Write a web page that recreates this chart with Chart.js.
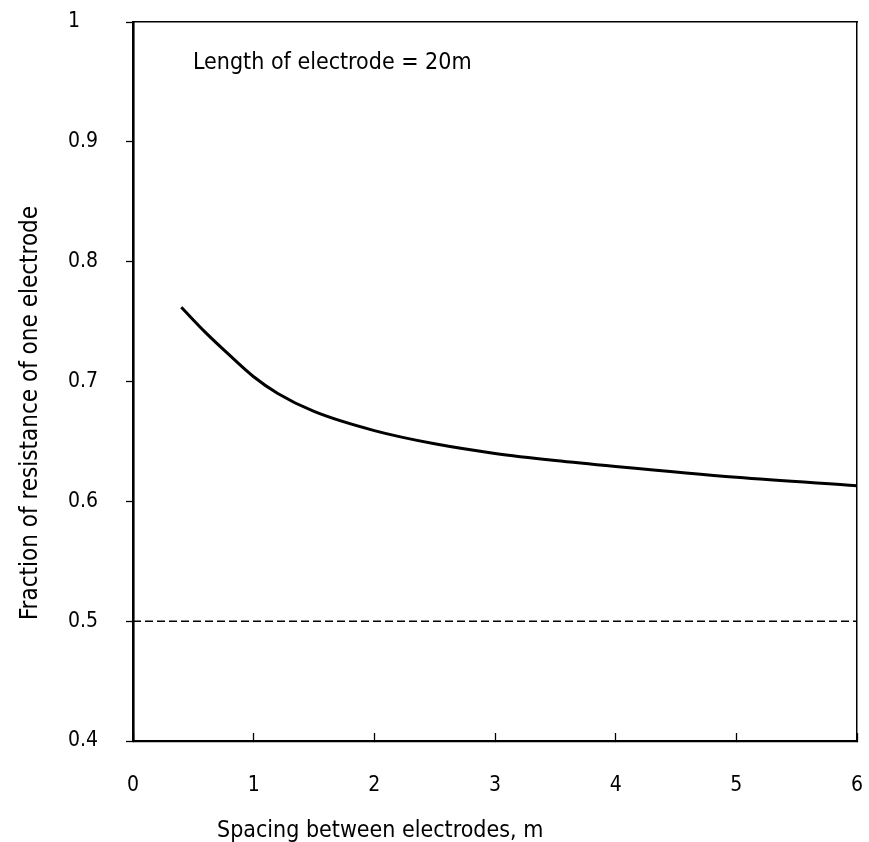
<!DOCTYPE html>
<html>
<head>
<meta charset="utf-8">
<script src="https://cdn.jsdelivr.net/npm/chart.js@4"></script>
<style>
  html, body { margin: 0; padding: 0; background: #fff; }
  #wrap { width: 869px; height: 842px; }
</style>
</head>
<body>
<div id="wrap"><canvas id="c" width="869" height="842"></canvas></div>
<script>
// ---- data ----
const spacing = [0.4, 0.6, 0.8, 1.0, 1.2, 1.5, 2.0, 2.5, 3.0, 3.5, 4.0, 5.0, 6.0];
const fraction = [0.762, 0.741, 0.722, 0.704, 0.690, 0.675, 0.659, 0.648, 0.640, 0.634, 0.629, 0.620, 0.613];
const limitX = [0, 6];
const limitY = [0.5, 0.5];
const xTicks = [0, 1, 2, 3, 4, 5, 6];
const yTicks = [0.4, 0.5, 0.6, 0.7, 0.8, 0.9, 1];
const noteText = 'Length of electrode = 20m';
const xTitle = 'Spacing between electrodes, m';
const yTitle = 'Fraction of resistance of one electrode';

const FONT = '"DejaVu Sans Condensed", "DejaVu Sans", sans-serif';

const textPlugin = {
  id: 'texts',
  afterDraw(chart) {
    const ctx = chart.ctx;
    const a = chart.chartArea;
    ctx.save();
    ctx.fillStyle = '#000';
    ctx.font = '23px ' + FONT;
    ctx.textBaseline = 'alphabetic';
    ctx.textAlign = 'left';
    ctx.fillText(noteText, a.left + 60, a.top + 47);
    ctx.fillText(xTitle, a.left + 84, 837);
    ctx.font = '24px ' + FONT;
    ctx.translate(37, 413);
    ctx.rotate(-Math.PI / 2);
    ctx.textAlign = 'center';
    ctx.fillText(yTitle, 0, 0);
    ctx.restore();
  }
};

new Chart(document.getElementById('c'), {
  type: 'line',
  data: {
    datasets: [
      {
        data: spacing.map((x, i) => ({ x: x, y: fraction[i] })),
        borderColor: '#000',
        borderWidth: 3,
        pointRadius: 0,
        cubicInterpolationMode: 'monotone',
        fill: false
      },
      {
        data: limitX.map((x, i) => ({ x: x, y: limitY[i] })),
        borderColor: '#000',
        borderWidth: 1.5,
        borderDash: [8, 4],
        pointRadius: 0,
        fill: false
      }
    ]
  },
  options: {
    responsive: false,
    animation: false,
    devicePixelRatio: 1,
    layout: { padding: { left: 68, top: 22, right: 12, bottom: 0 } },
    plugins: { legend: { display: false }, tooltip: { enabled: false }, title: { display: false } },
    scales: {
      x: {
        type: 'linear',
        position: 'bottom',
        min: 0, max: 6,
        afterBuildTicks(s) { s.ticks = xTicks.map(v => ({ value: v })); },
        afterFit(s) { s.height = 101; s.paddingLeft = 0; s.paddingRight = 0; },
        ticks: { color: '#000', font: { family: FONT, size: 21 }, padding: 40, maxRotation: 0 },
        grid: { drawOnChartArea: false, tickLength: -8, tickWidth: 1.3, tickColor: '#000' },
        border: { display: true, color: '#000', width: 2.2 }
      },
      y: {
        type: 'linear',
        position: 'left',
        min: 0.4, max: 1,
        afterBuildTicks(s) { s.ticks = yTicks.map(v => ({ value: v })); },
        afterFit(s) { s.width = 65; s.paddingTop = 0; s.paddingBottom = 0; },
        ticks: {
          color: '#000', font: { family: FONT, size: 21 }, crossAlign: 'far',
          callback: v => String(Math.round(v * 10) / 10)
        },
        grid: { drawOnChartArea: false, tickLength: 7, tickWidth: 1.3, tickColor: '#000' },
        border: { display: true, color: '#000', width: 2.6 }
      },
      xTop: {
        type: 'linear',
        position: 'top',
        min: 0, max: 6,
        afterFit(s) { s.height = 0; s.paddingLeft = 0; s.paddingRight = 0; },
        ticks: { display: false },
        grid: { drawOnChartArea: false, drawTicks: false },
        border: { display: true, color: '#000', width: 1.5 }
      },
      yRight: {
        type: 'linear',
        position: 'right',
        min: 0.4, max: 1,
        afterFit(s) { s.width = 0; s.paddingTop = 0; s.paddingBottom = 0; },
        ticks: { display: false },
        grid: { drawOnChartArea: false, drawTicks: false },
        border: { display: true, color: '#000', width: 1.5 }
      }
    }
  },
  plugins: [textPlugin]
});
</script>
</body>
</html>
